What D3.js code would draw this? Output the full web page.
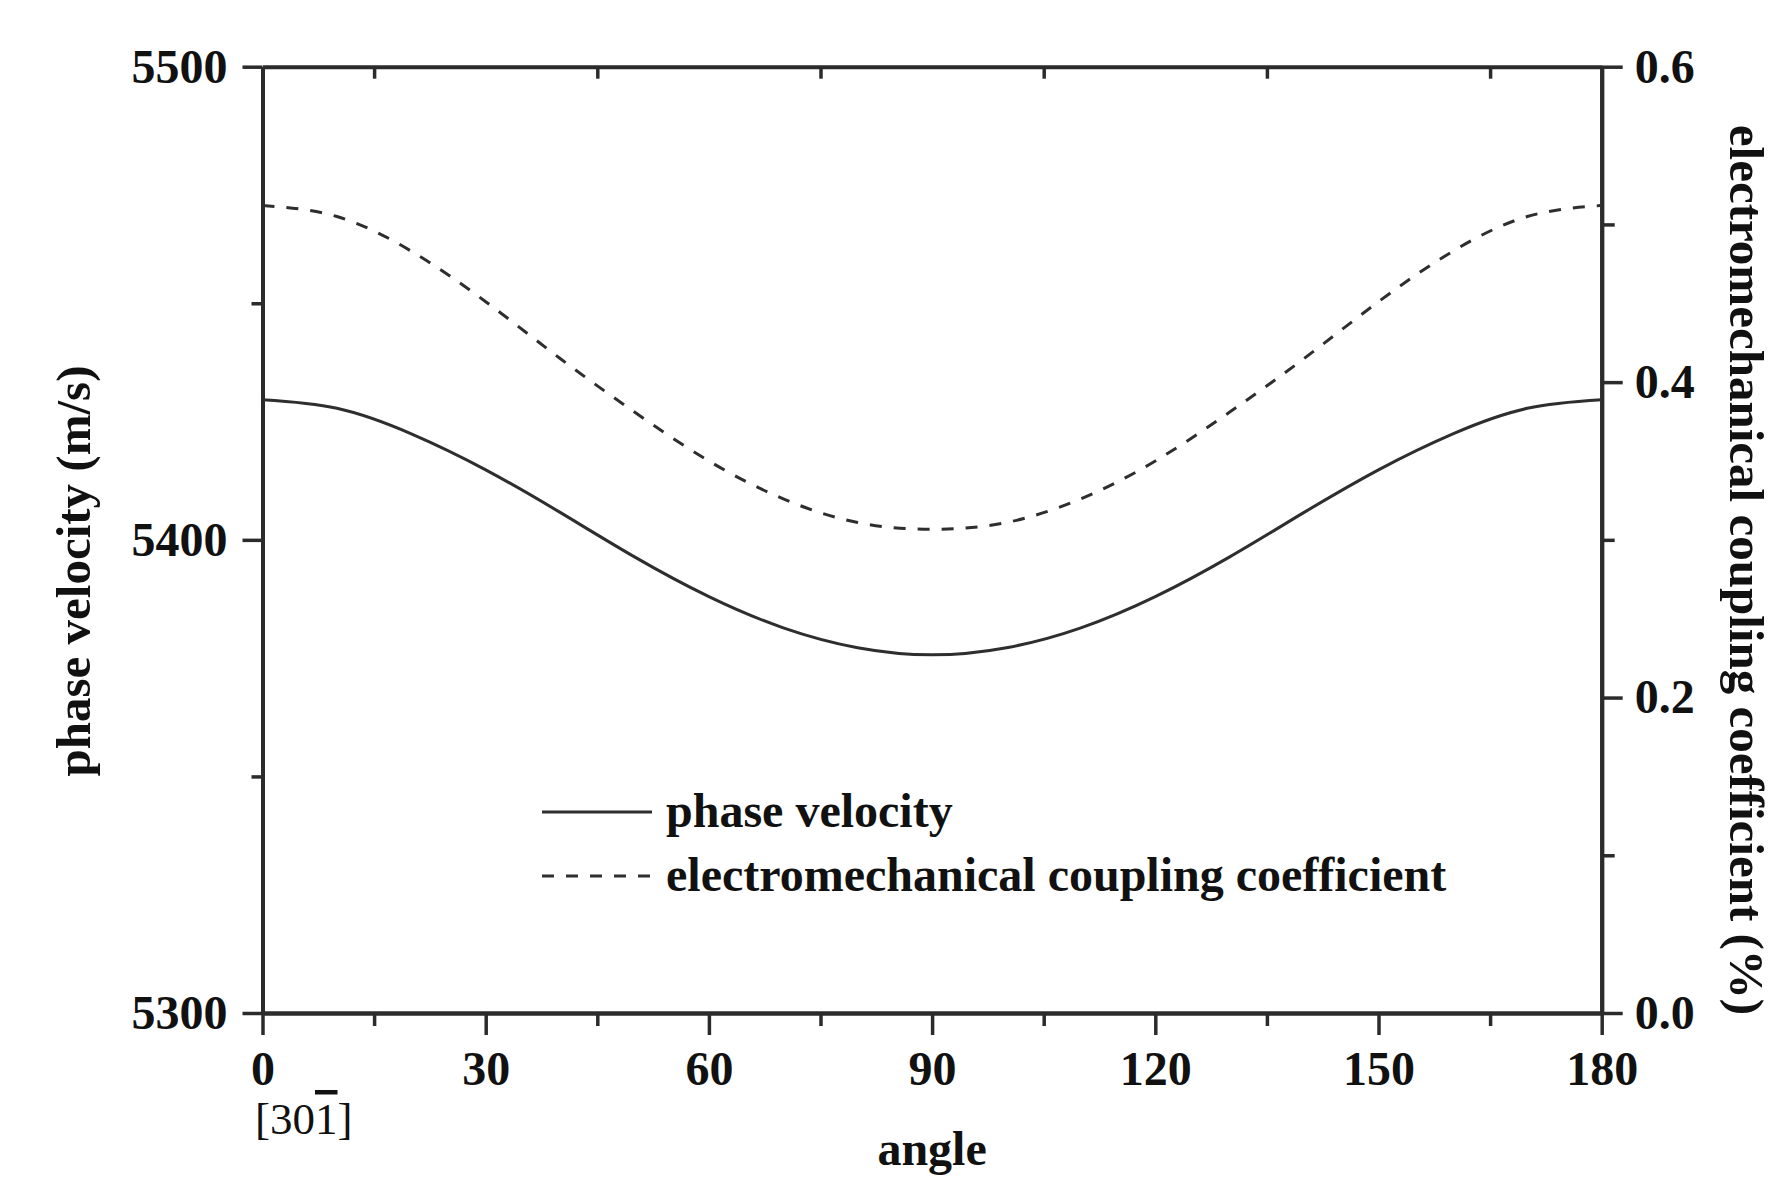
<!DOCTYPE html>
<html>
<head>
<meta charset="utf-8">
<script src="https://cdn.jsdelivr.net/npm/d3@7"></script>
<style>
  html, body { margin: 0; padding: 0; background: #fff; }
  svg { display: block; }
  text { font-family: "Liberation Serif", "Times New Roman", serif; fill: #111; }
</style>
</head>
<body>
<svg id="chart" width="1779" height="1178"></svg>
<script>
// Propagation angle (degrees)
const angles = [0, 10, 20, 30, 40, 50, 60, 70, 80, 90, 100, 110, 120, 130, 140, 150, 160, 170, 180];
// SAW phase velocity (m/s)
const phaseVelocity = [5429.6, 5427.8, 5422.4, 5414.8, 5405.8, 5396.4, 5388.0, 5381.4, 5377.2, 5375.7,
                       5377.2, 5381.4, 5388.0, 5396.4, 5405.8, 5414.8, 5422.4, 5427.8, 5429.6];
// Electromechanical coupling coefficient (%)
const coupling = [0.512, 0.505, 0.483, 0.451, 0.415, 0.381, 0.350, 0.326, 0.311, 0.3067,
                  0.311, 0.326, 0.350, 0.381, 0.415, 0.451, 0.483, 0.505, 0.512];

const xMajor = [0, 30, 60, 90, 120, 150, 180];
const xMinor = [15, 45, 75, 105, 135, 165];
const vMajor = [5300, 5400, 5500];
const vMinor = [5350, 5450];
const kMajor = [0, 0.2, 0.4, 0.6];
const kMinor = [0.1, 0.3, 0.5];

const legendLabels = ["phase velocity", "electromechanical coupling coefficient"];

const svg = d3.select("#chart");
const plotL = 262.5, plotR = 1601.7, plotT = 66.7, plotB = 1013;

const x = d3.scaleLinear().domain([0, 180]).range([plotL, plotR]);
const yV = d3.scaleLinear().domain([5300, 5500]).range([plotB, plotT]);
const yK = d3.scaleLinear().domain([0, 0.6]).range([plotB, plotT]);

const AX = "#2b2b2b";
const tickFont = 48;

function styleAxis(g) {
  g.select(".domain").attr("stroke", AX).attr("stroke-width", 4);
  g.selectAll(".tick line").attr("stroke", AX).attr("stroke-width", 3.5);
  g.selectAll(".tick text")
    .attr("font-family", "Liberation Serif, Times New Roman, serif")
    .attr("font-weight", "bold")
    .attr("font-size", tickFont)
    .attr("fill", "#111");
}

// Bottom axis (angle)
svg.append("g").attr("transform", `translate(0,${plotB})`)
  .call(d3.axisBottom(x).tickValues(xMinor).tickSize(13).tickSizeOuter(0).tickFormat(""))
  .call(styleAxis);
svg.append("g").attr("transform", `translate(0,${plotB})`)
  .call(d3.axisBottom(x).tickValues(xMajor).tickSize(22).tickPadding(16).tickSizeOuter(0).tickFormat(d3.format("d")))
  .call(styleAxis);

// Top frame with inward minor ticks
svg.append("g").attr("transform", `translate(0,${plotT})`)
  .call(d3.axisBottom(x).tickValues(xMinor).tickSize(12).tickSizeOuter(0).tickFormat(""))
  .call(styleAxis);

// Left axis (phase velocity)
svg.append("g").attr("transform", `translate(${plotL},0)`)
  .call(d3.axisLeft(yV).tickValues(vMinor).tickSize(11).tickSizeOuter(0).tickFormat(""))
  .call(styleAxis);
svg.append("g").attr("transform", `translate(${plotL},0)`)
  .call(d3.axisLeft(yV).tickValues(vMajor).tickSize(20).tickPadding(15).tickSizeOuter(0).tickFormat(d3.format("d")))
  .call(styleAxis);

// Right axis (coupling coefficient)
svg.append("g").attr("transform", `translate(${plotR},0)`)
  .call(d3.axisRight(yK).tickValues(kMinor).tickSize(13).tickSizeOuter(0).tickFormat(""))
  .call(styleAxis);
svg.append("g").attr("transform", `translate(${plotR},0)`)
  .call(d3.axisRight(yK).tickValues(kMajor).tickSize(21).tickPadding(12).tickSizeOuter(0).tickFormat(d3.format(".1f")))
  .call(styleAxis);

// Curves
const lineV = d3.line().x((d, i) => x(angles[i])).y(d => yV(d)).curve(d3.curveNatural);
const lineK = d3.line().x((d, i) => x(angles[i])).y(d => yK(d)).curve(d3.curveNatural);

svg.append("path").datum(phaseVelocity)
  .attr("d", lineV).attr("fill", "none")
  .attr("stroke", "#2e2e2e").attr("stroke-width", 3);

svg.append("path").datum(coupling)
  .attr("d", lineK).attr("fill", "none")
  .attr("stroke", "#2e2e2e").attr("stroke-width", 3)
  .attr("stroke-dasharray", "12,12");

// Legend
const legend = svg.append("g");
const legendRows = [{ y: 812, dash: null }, { y: 876, dash: "12,12" }];
legendRows.forEach((r, i) => {
  legend.append("line")
    .attr("x1", 542).attr("x2", 652).attr("y1", r.y).attr("y2", r.y)
    .attr("stroke", "#2e2e2e").attr("stroke-width", 3)
    .attr("stroke-dasharray", r.dash);
  legend.append("text")
    .attr("x", 666).attr("y", r.y + 15)
    .attr("font-weight", "bold").attr("font-size", 48)
    .text(legendLabels[i]);
});

// Axis titles
svg.append("text")
  .attr("x", (plotL + plotR) / 2).attr("y", 1165)
  .attr("text-anchor", "middle").attr("font-weight", "bold").attr("font-size", 48)
  .text("angle");

const dir = svg.append("text")
  .attr("x", 255).attr("y", 1134)
  .attr("font-size", 45);
dir.append("tspan").text("[30");
dir.append("tspan").style("text-decoration", "overline").text("1");
dir.append("tspan").text("]");

svg.append("text")
  .attr("transform", `translate(90,571) rotate(-90)`)
  .attr("text-anchor", "middle").attr("font-weight", "bold").attr("font-size", 49)
  .text("phase velocity (m/s)");

svg.append("text")
  .attr("transform", `translate(1730,570) rotate(90)`)
  .attr("text-anchor", "middle").attr("font-weight", "bold").attr("font-size", 49)
  .text("electromechanical coupling coefficient (%)");
</script>
</body>
</html>
